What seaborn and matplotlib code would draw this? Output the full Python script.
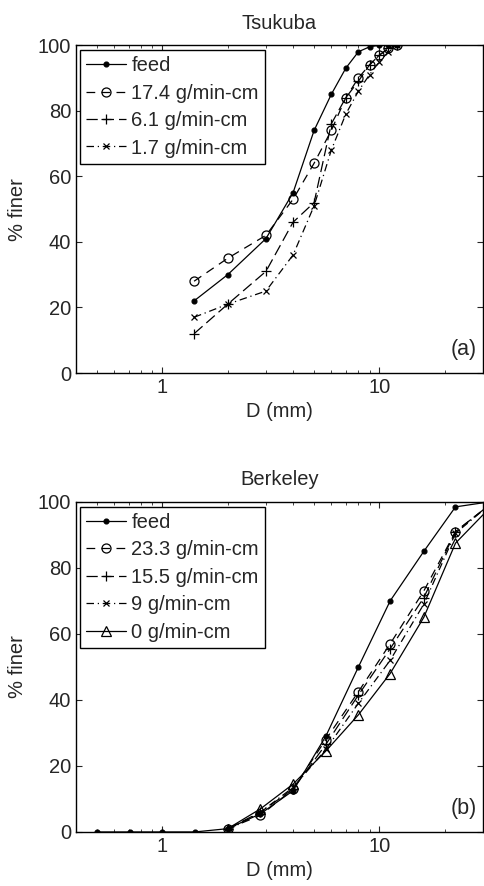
import matplotlib
matplotlib.use("Agg")
import matplotlib.pyplot as plt
import seaborn as sns
import pandas as pd

# Tsukuba (a)
d_tsu = [1.4, 2, 3, 4, 5, 6, 7, 8, 9, 10, 11, 12]
tsu_feed = [22, 30, 41, 55, 74, 85, 93, 98, 99.5, 100, 100, 100]
tsu_174 = [28, 35, 42, 53, 64, 74, 84, 90, 94, 97, 99, 100]
tsu_61 = [12, 21, 31, 46, 52, 76, 84, 89, 94, 97, 99, 100]
tsu_17 = [17, 21, 25, 36, 51, 68, 79, 86, 91, 95, 98, 100]
tsu_labels = ["feed", "17.4 g/min-cm", "6.1 g/min-cm", "1.7 g/min-cm"]

# Berkeley (b)
d_brk_feed = [0.5, 0.71, 1.0, 1.41, 2.0, 2.83, 4.0, 5.66, 8.0, 11.2, 16.0, 22.4, 32.0]
brk_feed = [0, 0, 0, 0, 1, 5.5, 12.5, 29, 50, 70, 85, 98.5, 100]
d_brk = [2.0, 2.83, 4.0, 5.66, 8.0, 11.2, 16.0, 22.4, 32.0]
brk_233 = [1, 5, 13, 28, 42.5, 57, 73, 91, 99]
brk_155 = [1, 6, 13, 26.5, 41.5, 55.5, 71, 91, 99]
brk_9 = [0.5, 6, 13.5, 25, 39, 52, 69, 90.5, 99]
brk_0 = [1, 7, 14.5, 24.5, 35.5, 48, 65, 87.5, 98]
brk_labels = ["feed", "23.3 g/min-cm", "15.5 g/min-cm", "9 g/min-cm", "0 g/min-cm"]

sns.set_style("ticks")
plt.rcParams['font.family'] = ['Liberation Sans', 'DejaVu Sans']
plt.rcParams['font.size'] = 14.5

styles = [
    dict(marker="o", markersize=3.5, markerfacecolor="k", linestyle="-"),
    dict(marker="o", markersize=6.5, markerfacecolor="none", linestyle=(0, (7, 5))),
    dict(marker="+", markersize=6.5, linestyle=(0, (9, 4))),
    dict(marker="x", markersize=5, linestyle=(0, (6, 3, 1, 3))),
    dict(marker="^", markersize=7, markerfacecolor="none", linestyle="-"),
]

fig = plt.figure(figsize=(4.84, 8.86), dpi=100)
ax1 = fig.add_axes([0.157, 0.579, 0.841, 0.370])
ax2 = fig.add_axes([0.157, 0.061, 0.841, 0.3725])


def draw(ax, xs, ys, labels, title, tag):
    for i, (x, y, lab) in enumerate(zip(xs, ys, labels)):
        df = pd.DataFrame({"D": x, "finer": y})
        sns.lineplot(data=df, x="D", y="finer", ax=ax, color="k", lw=0.9,
                     markeredgecolor="k", markeredgewidth=0.9, sort=False,
                     label=lab, **styles[i])
    ax.set_xscale("log")
    ax.set_xlim(0.4, 30)
    ax.set_ylim(0, 100)
    ax.set_xticks([1, 10], ["1", "10"])
    ax.xaxis.set_minor_formatter(matplotlib.ticker.NullFormatter())
    ax.set_yticks([0, 20, 40, 60, 80, 100])
    ax.tick_params(which="both", direction="in", top=True, right=True)
    ax.tick_params(which="major", length=4)
    ax.tick_params(which="minor", length=2.5)
    for s in ax.spines.values():
        s.set_linewidth(1.0)
        s.set_color("k")
    ax.set_title(title, pad=12, fontsize=14.5)
    ax.set_xlabel("D (mm)")
    ax.set_ylabel("% finer", labelpad=8)
    ax.text(0.985, 0.04, tag, transform=ax.transAxes, ha="right", va="bottom", fontsize=15.5)
    leg = ax.legend(loc="upper left", bbox_to_anchor=(0.01, 0.985), borderaxespad=0,
                    fancybox=False, framealpha=1, edgecolor="k", fontsize=14.5,
                    handlelength=2.0, handletextpad=0.25, labelspacing=0.42,
                    borderpad=0.3)
    leg.get_frame().set_linewidth(1.0)


draw(ax1, [d_tsu] * 4, [tsu_feed, tsu_174, tsu_61, tsu_17], tsu_labels, "Tsukuba", "(a)")
draw(ax2, [d_brk_feed] + [d_brk] * 4, [brk_feed, brk_233, brk_155, brk_9, brk_0],
     brk_labels, "Berkeley", "(b)")

fig.savefig("out.png", dpi=100)
